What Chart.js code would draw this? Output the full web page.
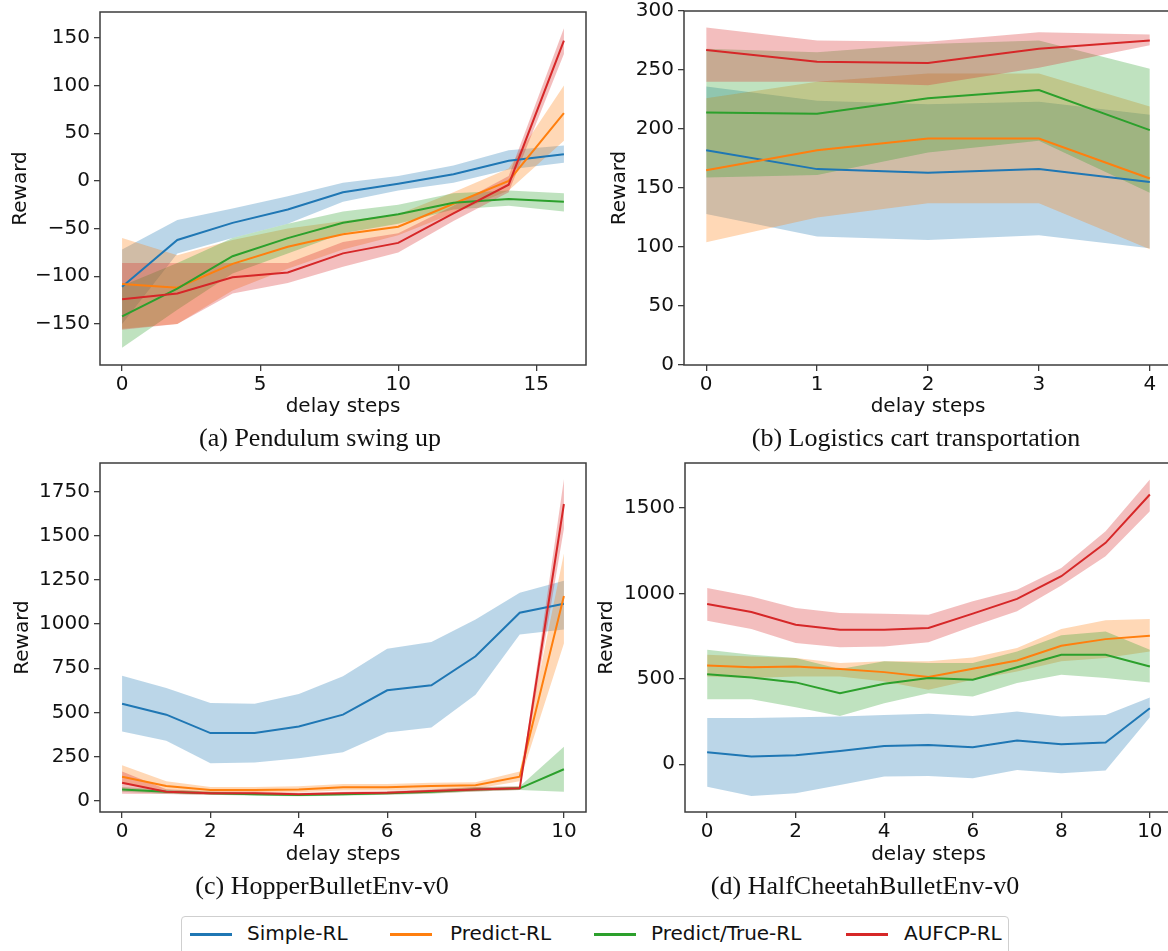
<!DOCTYPE html>
<html>
<head>
<meta charset="utf-8">
<script src="https://cdn.jsdelivr.net/npm/chart.js@4.4.3/dist/chart.umd.min.js"></script>
<style>
  html, body { margin: 0; padding: 0; background: #fff; overflow: hidden; width: 1168px; height: 951px; }
  canvas { position: absolute; }
  .cap { position: absolute; font-family: "Liberation Serif", "Times New Roman", serif; font-size: 26px; color: #111;
         white-space: nowrap; transform: translate(-50%, -50%); }
  #legend { position: absolute; left: 181px; top: 916px; width: 828px; height: 44px; border: 1px solid #cfcfcf;
            border-radius: 4px; box-sizing: border-box; background: #fff; }
  .sw { position: absolute; top: 16px; width: 42px; height: 3px; }
  .lb { position: absolute; top: 4px; font-family: "DejaVu Sans", sans-serif; font-size: 20px; color: #111; white-space: nowrap; }
</style>
</head>
<body>
<canvas id="chartA" width="590" height="430" style="left:0;top:0"></canvas>
<canvas id="chartB" width="590" height="430" style="left:590px;top:0"></canvas>
<canvas id="chartC" width="590" height="430" style="left:0;top:451px"></canvas>
<canvas id="chartD" width="590" height="430" style="left:590px;top:451px"></canvas>

<div class="cap" style="left:320px;top:438px">(a) Pendulum swing up</div>
<div class="cap" style="left:916px;top:438px">(b) Logistics cart transportation</div>
<div class="cap" style="left:322px;top:886px">(c) HopperBulletEnv-v0</div>
<div class="cap" style="left:865px;top:886px">(d) HalfCheetahBulletEnv-v0</div>

<div id="legend"></div>

<script>
const seriesNames = ["Simple-RL", "Predict-RL", "Predict/True-RL", "AUFCP-RL"];
const seriesColors = ["#1f77b4", "#ff7f0e", "#2ca02c", "#d62728"];

// (a) Pendulum swing up
const pendX = [0, 2, 4, 6, 8, 10, 12, 14, 16];
const pendSimple = [-111, -62, -44, -30, -12, -3, 7, 21, 28];
const pendSimpleLo = [-150, -76, -60, -45, -22, -10, -2, 12, 19];
const pendSimpleHi = [-72, -41, -29, -16, -2, 5, 16, 32, 37];
const pendPredict = [-108, -112, -87, -69, -56, -48, -24, 0, 71];
const pendPredictLo = [-155, -150, -115, -92, -72, -57, -34, -10, 42];
const pendPredictHi = [-60, -78, -62, -50, -42, -35, -12, 13, 100];
const pendTrue = [-142, -113, -79, -60, -44, -35, -23, -19, -22];
const pendTrueLo = [-175, -135, -97, -76, -55, -45, -30, -26, -32];
const pendTrueHi = [-110, -86, -60, -45, -32, -25, -13, -10, -13];
const pendAufcp = [-124, -118, -101, -96, -76, -65, -34, -4, 147];
const pendAufcpLo = [-156, -150, -118, -107, -90, -75, -42, -12, 133];
const pendAufcpHi = [-86, -86, -86, -86, -64, -55, -26, 5, 160];
const pendXTicks = [0, 5, 10, 15];
const pendYTicks = [-150, -100, -50, 0, 50, 100, 150];

// (b) Logistics cart transportation
const cartX = [0, 1, 2, 3, 4];
const cartSimple = [182, 166, 163, 166, 155];
const cartSimpleLo = [128, 109, 106, 110, 99];
const cartSimpleHi = [236, 224, 221, 223, 212];
const cartPredict = [165, 182, 192, 192, 158];
const cartPredictLo = [104, 125, 137, 137, 98];
const cartPredictHi = [226, 240, 247, 247, 219];
const cartTrue = [214, 213, 226, 233, 199];
const cartTrueLo = [159, 161, 180, 190, 146];
const cartTrueHi = [268, 265, 272, 275, 251];
const cartAufcp = [267, 257, 256, 268, 275];
const cartAufcpLo = [240, 240, 237, 252, 271];
const cartAufcpHi = [286, 275, 274, 282, 280];
const cartXTicks = [0, 1, 2, 3, 4];
const cartYTicks = [0, 50, 100, 150, 200, 250, 300];

// (c) HopperBulletEnv-v0
const hopX = [0, 1, 2, 3, 4, 5, 6, 7, 8, 9, 10];
const hopSimple = [549, 487, 383, 383, 420, 487, 625, 653, 818, 1064, 1115];
const hopSimpleLo = [392, 339, 212, 216, 240, 275, 386, 415, 600, 941, 970];
const hopSimpleHi = [708, 638, 553, 549, 604, 704, 860, 898, 1026, 1178, 1245];
const hopPredict = [136, 83, 61, 61, 64, 76, 76, 83, 87, 136, 1159];
const hopPredictLo = [95, 60, 45, 45, 48, 58, 58, 65, 68, 110, 890];
const hopPredictHi = [200, 110, 78, 78, 82, 95, 95, 102, 105, 165, 1400];
const hopTrue = [64, 51, 42, 36, 32, 36, 42, 51, 64, 70, 178];
const hopTrueLo = [50, 40, 33, 28, 25, 28, 33, 40, 52, 60, 50];
const hopTrueHi = [78, 62, 50, 45, 40, 45, 50, 62, 76, 80, 305];
const hopAufcp = [102, 51, 42, 42, 36, 42, 45, 55, 64, 70, 1680];
const hopAufcpLo = [40, 38, 32, 32, 28, 32, 35, 42, 52, 60, 1540];
const hopAufcpHi = [165, 65, 52, 52, 45, 50, 55, 65, 78, 82, 1820];
const hopXTicks = [0, 2, 4, 6, 8, 10];
const hopYTicks = [0, 250, 500, 750, 1000, 1250, 1500, 1750];

// (d) HalfCheetahBulletEnv-v0
const cheetahX = [0, 1, 2, 3, 4, 5, 6, 7, 8, 9, 10];
const cheetahSimple = [70, 45, 53, 78, 107, 113, 100, 139, 117, 127, 328];
const cheetahSimpleLo = [-131, -186, -170, -121, -72, -68, -82, -33, -53, -37, 275];
const cheetahSimpleHi = [270, 270, 275, 279, 289, 295, 283, 309, 279, 289, 391];
const cheetahPredict = [578, 568, 572, 557, 539, 510, 559, 607, 693, 732, 752];
const cheetahPredictLo = [514, 504, 514, 514, 484, 436, 494, 543, 602, 621, 660];
const cheetahPredictHi = [640, 631, 621, 592, 602, 602, 625, 680, 791, 842, 850];
const cheetahTrue = [527, 508, 479, 416, 471, 504, 494, 568, 640, 640, 572];
const cheetahTrueLo = [381, 381, 334, 283, 357, 416, 396, 475, 523, 504, 479];
const cheetahTrueHi = [670, 640, 621, 557, 602, 592, 592, 660, 754, 777, 670];
const cheetahAufcp = [937, 891, 816, 787, 787, 797, 881, 967, 1100, 1295, 1578];
const cheetahAufcpLo = [840, 791, 709, 684, 689, 713, 807, 895, 1045, 1217, 1480];
const cheetahAufcpHi = [1031, 982, 914, 885, 881, 875, 953, 1021, 1148, 1363, 1666];
const cheetahXTicks = [0, 2, 4, 6, 8, 10];
const cheetahYTicks = [0, 500, 1000, 1500];

const axisFont = { family: "DejaVu Sans", size: 20 };
const inkColor = "#111";
const spineColor = "#3c3c3c";

function pts(xs, ys) {
  return xs.map((x, i) => ({ x: x, y: ys[i] }));
}

function alpha(hex, a) {
  const n = parseInt(hex.slice(1), 16);
  return `rgba(${(n >> 16) & 255}, ${(n >> 8) & 255}, ${n & 255}, ${a})`;
}

function fmt(v) {
  return v < 0 ? "\u2212" + Math.abs(v) : String(v);
}

// lower bound, upper bound filled to it, then the mean line on top
function seriesDatasets(xs, groups) {
  const out = [];
  groups.forEach(([mean, lo, hi], k) => {
    const color = seriesColors[k];
    out.push({ data: pts(xs, lo), borderWidth: 0, pointRadius: 0, fill: false, order: 30 - k });
    out.push({ data: pts(xs, hi), borderWidth: 0, pointRadius: 0, backgroundColor: alpha(color, 0.3),
               fill: "-1", order: 30 - k });
    out.push({ data: pts(xs, mean), borderColor: color, borderWidth: 2, pointRadius: 0, fill: false,
               tension: 0, order: 10 - k });
  });
  return out;
}

const framePlugin = {
  id: "frame",
  afterDraw(chart) {
    const { ctx, chartArea: { left, top, right, bottom } } = chart;
    ctx.save();
    ctx.strokeStyle = spineColor;
    ctx.lineWidth = 1.5;
    ctx.strokeRect(left, top, right - left, bottom - top);
    ctx.restore();
  }
};

function makeChart(id, datasets, xRange, yRange, xTicks, yTicks, box) {
  const tickGrid = { display: true, drawOnChartArea: false, drawTicks: true, tickLength: 6, color: spineColor, lineWidth: 1.3 };
  new Chart(document.getElementById(id), {
    type: "line",
    data: { datasets: datasets },
    plugins: [framePlugin],
    options: {
      responsive: false,
      animation: false,
      events: [],
      layout: { padding: { left: 0, top: box.top, right: box.right, bottom: 0 } },
      plugins: { legend: { display: false }, tooltip: { enabled: false } },
      scales: {
        x: {
          type: "linear", min: xRange[0], max: xRange[1],
          afterBuildTicks: (s) => { s.ticks = xTicks.map((v) => ({ value: v })); },
          afterFit: (s) => { s.height = box.xh; s.paddingLeft = 0; s.paddingRight = 0; },
          grid: tickGrid,
          border: { display: false },
          ticks: { font: axisFont, color: inkColor, padding: 2, maxRotation: 0, autoSkip: false, callback: fmt },
          title: { display: true, text: "delay steps", font: axisFont, color: inkColor, padding: { top: 0, bottom: box.xt } }
        },
        y: {
          type: "linear", min: yRange[0], max: yRange[1],
          afterBuildTicks: (s) => { s.ticks = yTicks.map((v) => ({ value: v })); },
          afterFit: (s) => { s.width = box.yw; s.paddingTop = 0; s.paddingBottom = 0; },
          grid: tickGrid,
          border: { display: false },
          ticks: { font: axisFont, color: inkColor, padding: 4, autoSkip: false, callback: fmt },
          title: { display: true, text: "Reward", font: axisFont, color: inkColor, padding: { top: box.yt, bottom: 0 } }
        }
      }
    }
  });
}

makeChart("chartA", seriesDatasets(pendX, [
  [pendSimple, pendSimpleLo, pendSimpleHi],
  [pendPredict, pendPredictLo, pendPredictHi],
  [pendTrue, pendTrueLo, pendTrueHi],
  [pendAufcp, pendAufcpLo, pendAufcpHi]
]), [-0.8, 16.8], [-193, 177], pendXTicks, pendYTicks, { top: 12, right: 4, yw: 100, xh: 65, yt: 9, xt: 11 });

makeChart("chartB", seriesDatasets(cartX, [
  [cartSimple, cartSimpleLo, cartSimpleHi],
  [cartPredict, cartPredictLo, cartPredictHi],
  [cartTrue, cartTrueLo, cartTrueHi],
  [cartAufcp, cartAufcpLo, cartAufcpHi]
]), [-0.2, 4.2], [0, 300], cartXTicks, cartYTicks, { top: 11, right: 8, yw: 94, xh: 65, yt: 18, xt: 11 });

makeChart("chartC", seriesDatasets(hopX, [
  [hopSimple, hopSimpleLo, hopSimpleHi],
  [hopPredict, hopPredictLo, hopPredictHi],
  [hopTrue, hopTrueLo, hopTrueHi],
  [hopAufcp, hopAufcpLo, hopAufcpHi]
]), [-0.5, 10.5], [-64, 1912], hopXTicks, hopYTicks, { top: 12, right: 4, yw: 100, xh: 69, yt: 11, xt: 14 });

makeChart("chartD", seriesDatasets(cheetahX, [
  [cheetahSimple, cheetahSimpleLo, cheetahSimpleHi],
  [cheetahPredict, cheetahPredictLo, cheetahPredictHi],
  [cheetahTrue, cheetahTrueLo, cheetahTrueHi],
  [cheetahAufcp, cheetahAufcpLo, cheetahAufcpHi]
]), [-0.5, 10.5], [-279, 1762], cheetahXTicks, cheetahYTicks, { top: 12, right: 8, yw: 95, xh: 69, yt: 5, xt: 14 });

// shared legend under the four panels
const legendSwatchX = [8, 208, 412, 664];
const legendLabelX = [65, 268, 469, 722];
const legend = document.getElementById("legend");
seriesNames.forEach((name, k) => {
  const sw = document.createElement("div");
  sw.className = "sw";
  sw.style.left = legendSwatchX[k] + "px";
  sw.style.background = seriesColors[k];
  const lb = document.createElement("div");
  lb.className = "lb";
  lb.style.left = legendLabelX[k] + "px";
  lb.textContent = name;
  legend.appendChild(sw);
  legend.appendChild(lb);
});
</script>
</body>
</html>
